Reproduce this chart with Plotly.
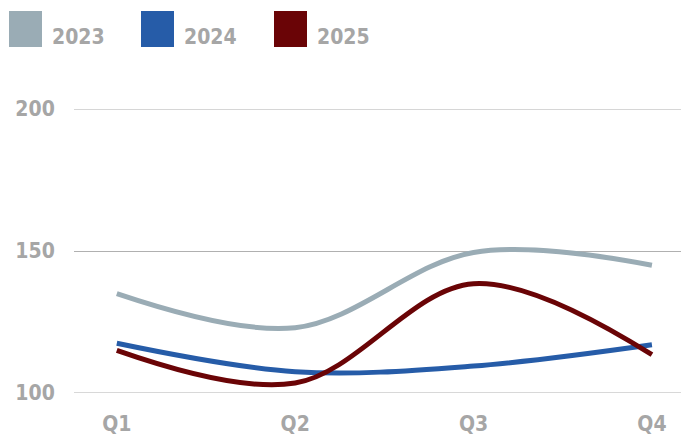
import plotly.graph_objects as go

quarters = ["Q1", "Q2", "Q3", "Q4"]
years = ["2023", "2024", "2025"]
values_2023 = [135, 123, 149.5, 145]
values_2024 = [117.5, 107.5, 109.5, 117]
values_2025 = [115, 103.5, 138.5, 113.5]
series = [values_2023, values_2024, values_2025]
colors = ["#9aacb5", "#265ca8", "#6a0406"]
y_ticks = [100, 150, 200]

FONT = "DejaVu Sans Condensed"
TEXT_GRAY = "#a6a6a6"
GRID_GRAY = "#b0b0b0"
FONT_SIZE = 21

# plot area in pixels
L, T, B, W, H = 74, 109, 43, 681, 436
PW, PH = W - L, H - T - B

fig = go.Figure()
for name, vals, col in zip(years, series, colors):
    fig.add_trace(go.Scatter(
        x=quarters, y=vals, name=name, mode="lines",
        line=dict(color=col, width=5, shape="spline", smoothing=1.0),
        showlegend=False,
    ))

# Custom legend: large square swatches followed by the year label
swatch_x = [9, 141, 274]
for name, col, sx in zip(years, colors, swatch_x):
    fig.add_shape(type="rect", xref="paper", yref="paper",
                  x0=(sx - L) / PW, x1=(sx + 33 - L) / PW,
                  y0=(H - B - 47) / PH, y1=(H - B - 11) / PH,
                  fillcolor=col, line=dict(width=0), layer="above")
    fig.add_annotation(xref="paper", yref="paper",
                       x=(sx + 41 - L) / PW, y=(H - B - 51) / PH,
                       xanchor="left", yanchor="bottom",
                       text="<b>%s</b>" % name, showarrow=False,
                       font=dict(family=FONT, size=FONT_SIZE, color=TEXT_GRAY))

fig.update_layout(
    width=W, height=H,
    margin=dict(l=L, r=0, t=T, b=B, autoexpand=False),
    paper_bgcolor="white", plot_bgcolor="white",
    font=dict(family=FONT, size=FONT_SIZE, color=TEXT_GRAY, weight="bold"),
    xaxis=dict(
        type="category", range=[-0.24, 3.163], automargin=False,
        showgrid=False, showline=False, zeroline=False,
        ticks="outside", ticklen=12, tickcolor="rgba(0,0,0,0)",
        tickfont=dict(family=FONT, size=FONT_SIZE, color=TEXT_GRAY, weight="bold"),
    ),
    yaxis=dict(
        range=[100, 200.01], tickvals=y_ticks, automargin=False,
        showgrid=True, gridcolor=GRID_GRAY, gridwidth=1,
        showline=False, zeroline=False,
        ticks="outside", ticklen=14, tickcolor="rgba(0,0,0,0)",
        tickfont=dict(family=FONT, size=FONT_SIZE, color=TEXT_GRAY, weight="bold"),
    ),
)
fig.add_hline(y=100, line=dict(color=GRID_GRAY, width=1), layer="below")
fig.add_hline(y=200, line=dict(color=GRID_GRAY, width=1), layer="below")

fig.write_html("out.html")
